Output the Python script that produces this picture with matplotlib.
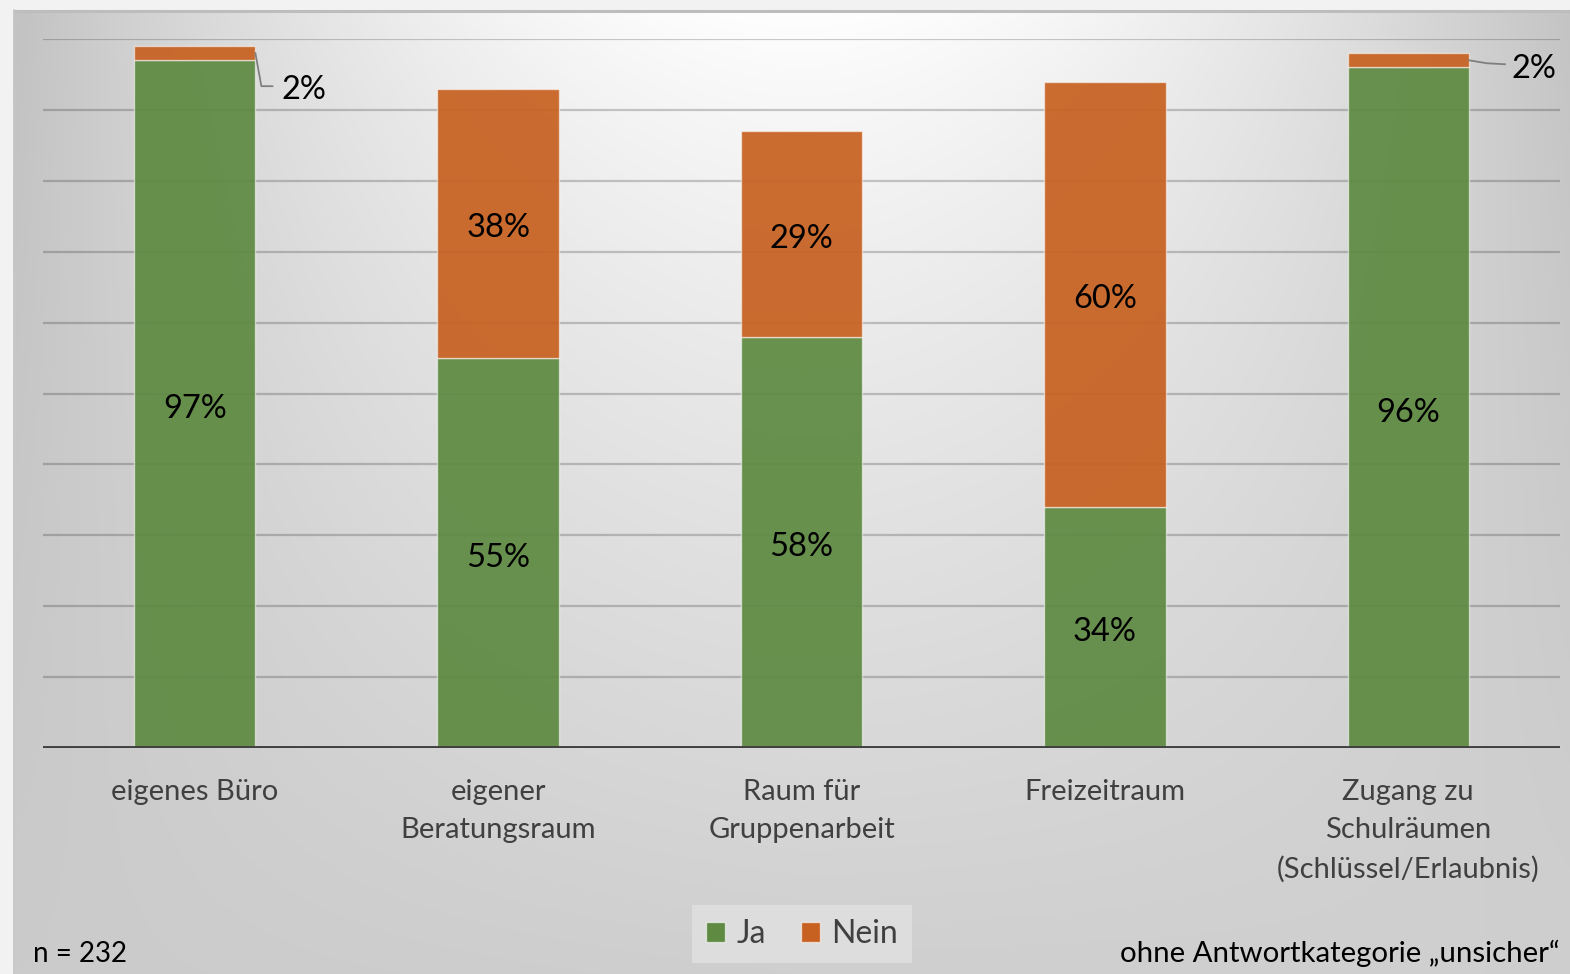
import numpy as np
import matplotlib
matplotlib.use("Agg")
import matplotlib.pyplot as plt
import matplotlib.transforms as mtransforms
from matplotlib.patches import Patch

plt.rcParams['font.family'] = ['Lato', 'DejaVu Sans']

# --- data -------------------------------------------------------------
categories = ["eigenes Büro", "eigener\nBeratungsraum", "Raum für\nGruppenarbeit",
              "Freizeitraum", "Zugang zu\nSchulräumen\n(Schlüssel/Erlaubnis)"]
ja = [97, 55, 58, 34, 96]
nein = [2, 38, 29, 60, 2]
series_names = ["Ja", "Nein"]
note_left = "n = 232"
note_right = "ohne Antwortkategorie „unsicher“"

GREEN = (0.37, 0.54, 0.26)
ORANGE = (0.78, 0.38, 0.13)
TEXT_GREY = "#404040"

W, H, DPI = 1570, 974, 100
fig = plt.figure(figsize=(W / DPI, H / DPI), dpi=DPI)
fig.patch.set_facecolor("#f2f2f2")

# --- shaded backdrop (pixel coordinates) -------------------------------
bg = fig.add_axes([0, 0, 1, 1], zorder=-5)
bg.set_xlim(0, W)
bg.set_ylim(H, 0)
bg.axis("off")
x0, y0 = 13, 10
xs = np.arange(x0, W) + 0.5
ys = np.arange(y0, H) + 0.5
X, Y = np.meshgrid(xs, ys)
top = 255 - 62 * np.clip(np.abs(X - 800) / 790, 0, 1) ** 1.8
bottom = 207 - 4 * np.clip((800 - X) / 790, 0, 1)
t = ((Y - y0) / (H - y0)) ** 0.8
val = (1 - t) * top + t * bottom
img = np.dstack([val, val, val]) / 255.0
bg.imshow(img, extent=(x0, W, H, y0), aspect="auto", interpolation="bilinear")
bg.plot([x0, W], [y0 + 1, y0 + 1], color="#bdbdbd", lw=2.2, solid_capstyle="butt")
bg.plot([x0 + 0.5, x0 + 0.5], [y0, H], color="#c8c8c8", lw=1.2)

# --- main chart --------------------------------------------------------
left, right = 43 / W, 1560 / W
base_y, top_y = 748, 39
ax = fig.add_axes([left, 1 - base_y / H, right - left, (base_y - top_y) / H])
ax.set_facecolor("none")
ax.set_xlim(-0.5, len(categories) - 0.5)
ax.set_ylim(0, 100)
for s in ax.spines.values():
    s.set_visible(False)

for gy in range(10, 101, 10):
    ax.axhline(gy, color=(0, 0, 0, 0.2), lw=1.6, zorder=1)
ax.axhline(0, color="#404040", lw=2.8, zorder=4)

pos = np.arange(len(categories))
bw = 0.4
ax.bar(pos, ja, bw, color=GREEN + (0.93,), edgecolor=(1, 1, 1, 0.55), lw=1.0, zorder=2)
ax.bar(pos, nein, bw, bottom=ja, color=ORANGE + (0.93,), edgecolor=(1, 1, 1, 0.55),
       lw=1.0, zorder=2)

ax.set_yticks([])
ax.set_xticks(pos)
ax.set_xticklabels(categories, fontsize=21, color=TEXT_GREY, linespacing=1.58)
ax.tick_params(axis="x", length=0, pad=22.5)
for lbl in ax.get_xticklabels():
    lbl.set_verticalalignment("top")
    lbl.set_horizontalalignment("center")
    lbl.set_multialignment("center")


def px(dx, dy):
    """Offset in screen pixels (dy positive = downwards)."""
    return mtransforms.ScaledTranslation(dx / DPI, -dy / DPI, fig.dpi_scale_trans)


# value labels inside the segments
for i in range(len(categories)):
    ax.text(pos[i], ja[i] / 2, f"{ja[i]}%", ha="center", va="center",
            transform=ax.transData + px(0, 5), fontsize=23.5, color="black", zorder=5)
    if nein[i] >= 10:
        ax.text(pos[i], ja[i] + nein[i] / 2, f"{nein[i]}%", ha="center", va="center",
                transform=ax.transData + px(0, 5), fontsize=23.5, color="black", zorder=5)

# small segments get a label outside with a leader line
callouts = {0: ([(0, 0), (6, 33), (17, 33)], (26, 37)),
            4: ([(0, 0), (18, 3), (36, 4)], (43, 9))}
inv = ax.transData.inverted()
for i, (path, (tx, ty)) in callouts.items():
    ax_x, ax_y = pos[i] + bw / 2, ja[i] + nein[i] / 2
    disp = np.array([(ax.transData + px(dx, dy)).transform((ax_x, ax_y)) for dx, dy in path])
    pts = inv.transform(disp)
    ax.plot(pts[:, 0], pts[:, 1], color="#7f7f7f", lw=1.3, zorder=5, clip_on=False)
    ax.text(ax_x, ax_y, f"{nein[i]}%", transform=ax.transData + px(tx, ty),
            ha="left", va="center", fontsize=23.5, color="black", zorder=5, clip_on=False)

# --- legend and notes ---------------------------------------------------
handles = [Patch(facecolor=GREEN, edgecolor=(1, 1, 1, 0.6), lw=1.0),
           Patch(facecolor=ORANGE, edgecolor=(1, 1, 1, 0.6), lw=1.0)]
leg = fig.legend(handles, series_names, loc="center", bbox_to_anchor=(802 / W, 1 - 934 / H),
                 ncol=2, frameon=True, fontsize=23, handlelength=0.6, handleheight=0.6,
                 handletextpad=0.35, columnspacing=1.1, borderpad=0.45, fancybox=False)
leg.get_frame().set_facecolor("#e0e0e0")
leg.get_frame().set_edgecolor("none")
leg.get_frame().set_alpha(0.85)
for txt in leg.get_texts():
    txt.set_color(TEXT_GREY)

fig.text(33 / W, 1 - 962 / H, note_left, ha="left", va="baseline", fontsize=20, color="black")
fig.text(1560 / W, 1 - 962 / H, note_right, ha="right", va="baseline", fontsize=21.2, color="black")

fig.savefig("out.png", dpi=DPI, facecolor=fig.get_facecolor())
